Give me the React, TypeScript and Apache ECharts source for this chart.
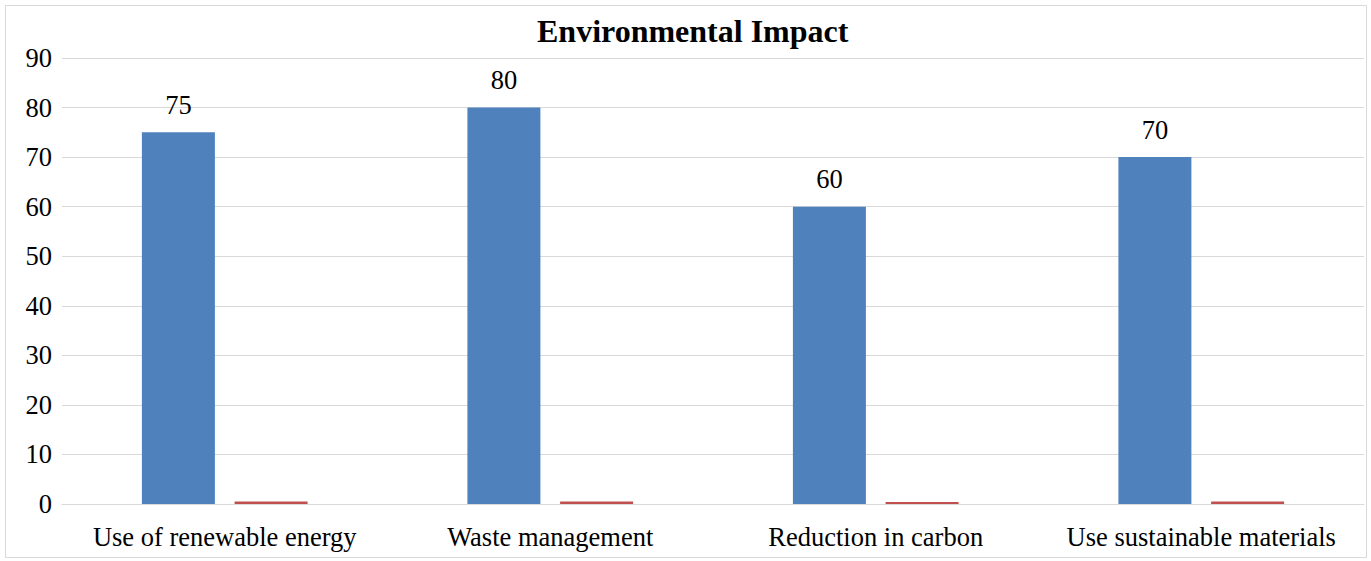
import React, { useEffect, useRef } from "react";
import * as echarts from "echarts";

const categories = [
  "Use of renewable energy",
  "Waste management",
  "Reduction in carbon",
  "Use sustainable materials",
];
const primaryValues = [75, 80, 60, 70];
const secondaryValues = [0.5, 0.5, 0.4, 0.5];
const yTicks = { min: 0, max: 90, interval: 10 };

const FONT = "Liberation Serif";

export default function App() {
  const ref = useRef<HTMLDivElement>(null);

  useEffect(() => {
    if (!ref.current) return;
    const chart = echarts.init(ref.current, undefined, { renderer: "svg" });
    chart.setOption({
      animation: false,
      backgroundColor: "#ffffff",
      title: {
        text: "Environmental Impact",
        left: 532,
        top: 10,
        textStyle: {
          fontFamily: FONT,
          fontSize: 32,
          fontWeight: "bold",
          color: "#000000",
        },
      },
      graphic: [
        {
          type: "rect",
          shape: { x: 5.5, y: 5.5, width: 1361, height: 552 },
          style: { fill: "none", stroke: "#d9d9d9", lineWidth: 1 },
          silent: true,
        },
      ],
      grid: { left: 62, right: 7, top: 58, bottom: 57 },
      xAxis: {
        type: "category",
        data: categories,
        axisLine: { lineStyle: { color: "#d9d9d9", width: 1 } },
        axisTick: { show: false },
        axisLabel: {
          interval: 0,
          fontFamily: FONT,
          fontSize: 26.5,
          color: "#000000",
          margin: 19,
        },
      },
      yAxis: {
        type: "value",
        min: yTicks.min,
        max: yTicks.max,
        interval: yTicks.interval,
        axisLine: { show: false },
        axisTick: { show: false },
        splitLine: { lineStyle: { color: "#d9d9d9", width: 1 } },
        axisLabel: {
          fontFamily: FONT,
          fontSize: 26.5,
          color: "#000000",
          margin: 10,
        },
      },
      series: [
        {
          type: "bar",
          data: primaryValues,
          barWidth: 73,
          barGap: "27%",
          itemStyle: { color: "#4f81bd" },
          label: {
            show: true,
            position: "top",
            distance: 14,
            fontFamily: FONT,
            fontSize: 26.5,
            color: "#000000",
          },
        },
        {
          type: "bar",
          data: secondaryValues,
          barWidth: 73,
          itemStyle: { color: "#c0504d" },
        },
      ],
    });
    return () => chart.dispose();
  }, []);

  return (
    <div
      ref={ref}
      style={{ position: "absolute", left: 0, top: 0, width: 1371, height: 561 }}
    />
  );
}
